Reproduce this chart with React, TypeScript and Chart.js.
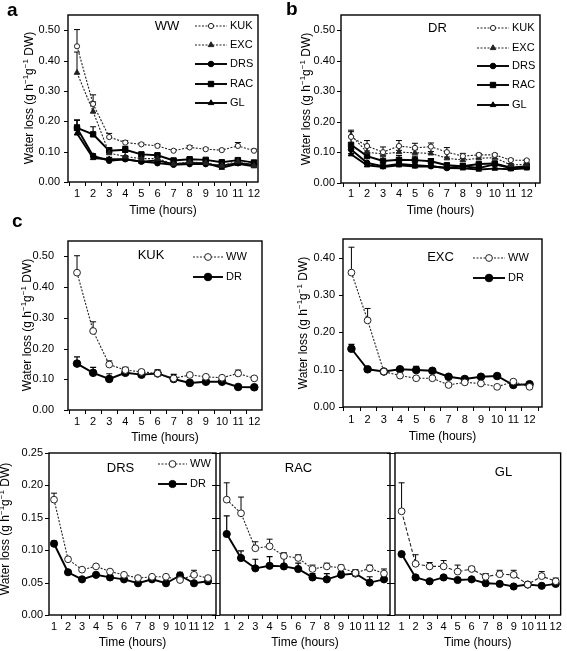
import React, { useEffect, useRef } from 'react';
import { Chart, registerables } from 'chart.js';

Chart.register(...registerables);

const FONT = '"Liberation Sans", Arial, Helvetica, sans-serif';
const PAGE_W = 567;
const PAGE_H = 651;

// ---------- data ----------
const HOURS = [1, 2, 3, 4, 5, 6, 7, 8, 9, 10, 11, 12];
const Y_TICKS_050 = [0, 0.1, 0.2, 0.3, 0.4, 0.5];
const Y_TICKS_040 = [0, 0.1, 0.2, 0.3, 0.4];
const Y_TICKS_025 = [0, 0.05, 0.1, 0.15, 0.2, 0.25];

const KUK_WW = [0.447, 0.257, 0.148, 0.130, 0.124, 0.119, 0.103, 0.114, 0.108, 0.105, 0.119, 0.103];
const KUK_WW_ERR = [0.055, 0.030, 0.012, 0.006, 0.004, 0.005, 0.004, 0.006, 0.004, 0.003, 0.011, 0.005];
const KUK_DR = [0.151, 0.121, 0.101, 0.121, 0.115, 0.119, 0.101, 0.088, 0.092, 0.092, 0.075, 0.074];
const KUK_DR_ERR = [0.022, 0.018, 0.017, 0.018, 0.015, 0.012, 0.015, 0.009, 0.005, 0.004, 0.004, 0.003];

const EXC_WW = [0.360, 0.232, 0.095, 0.084, 0.077, 0.077, 0.059, 0.066, 0.063, 0.054, 0.068, 0.054];
const EXC_WW_ERR = [0.068, 0.032, 0.004, 0.003, 0.003, 0.003, 0.003, 0.003, 0.003, 0.003, 0.004, 0.003];
const EXC_DR = [0.156, 0.101, 0.095, 0.101, 0.099, 0.097, 0.081, 0.075, 0.081, 0.083, 0.059, 0.061];
const EXC_DR_ERR = [0.012, 0.004, 0.005, 0.006, 0.010, 0.006, 0.004, 0.005, 0.004, 0.004, 0.005, 0.005];

const DRS_WW = [0.178, 0.086, 0.070, 0.075, 0.067, 0.062, 0.057, 0.059, 0.059, 0.054, 0.062, 0.057];
const DRS_WW_ERR = [0.010, 0.002, 0.002, 0.002, 0.002, 0.002, 0.002, 0.002, 0.002, 0.002, 0.007, 0.002];
const DRS_DR = [0.110, 0.066, 0.055, 0.062, 0.058, 0.055, 0.049, 0.055, 0.049, 0.061, 0.049, 0.052];
const DRS_DR_ERR = [0.004, 0.002, 0.002, 0.002, 0.002, 0.002, 0.002, 0.002, 0.002, 0.005, 0.002, 0.002];

const RAC_WW = [0.178, 0.157, 0.103, 0.106, 0.091, 0.088, 0.071, 0.075, 0.073, 0.065, 0.072, 0.064];
const RAC_WW_ERR = [0.026, 0.025, 0.010, 0.011, 0.005, 0.005, 0.006, 0.005, 0.004, 0.005, 0.005, 0.007];
const RAC_DR = [0.125, 0.088, 0.072, 0.076, 0.075, 0.071, 0.058, 0.055, 0.062, 0.064, 0.050, 0.055];
const RAC_DR_ERR = [0.028, 0.011, 0.014, 0.014, 0.013, 0.009, 0.006, 0.009, 0.005, 0.005, 0.009, 0.005];

const GL_WW = [0.160, 0.079, 0.075, 0.075, 0.067, 0.071, 0.059, 0.063, 0.062, 0.047, 0.060, 0.052];
const GL_WW_ERR = [0.044, 0.014, 0.006, 0.009, 0.010, 0.004, 0.005, 0.006, 0.007, 0.002, 0.007, 0.005];
const GL_DR = [0.094, 0.058, 0.052, 0.058, 0.054, 0.055, 0.049, 0.048, 0.044, 0.047, 0.045, 0.048];
const GL_DR_ERR = [0.002, 0.002, 0.002, 0.002, 0.002, 0.002, 0.002, 0.002, 0.002, 0.002, 0.002, 0.002];

// ---------- styles ----------
type Marker = 'circle' | 'triangle' | 'rect';
interface SeriesDef {
  name: string;
  data: number[];
  err: number[];
  marker: Marker;
  open: boolean;
  radius: number;
  dash: number[];
  width: number;
  color: string;
}

const dotted = (name: string, data: number[], err: number[], marker: Marker, open: boolean, radius: number, dash = [2, 1.5]): SeriesDef => ({
  name, data, err, marker, open, radius, dash, width: 1.1, color: '#222',
});
const solid = (name: string, data: number[], err: number[], marker: Marker, radius: number): SeriesDef => ({
  name, data, err, marker, open: false, radius, dash: [], width: 1.9, color: '#000',
});

interface PanelDef {
  key: string;
  plot: [number, number, number, number];
  xMin: number;
  xMax: number;
  yMax: number;
  yTicks: number[];
  yLabelPad: number | null;
  yTickLen: number;
  xLabelPad: number;
  series: SeriesDef[];
  title: [string, number, number];
  legend: { x1: number; x2: number; tx: number; ys: number[] } | null;
  yTitle: [number, number] | null;
  xTitleY: number;
  tag?: [string, number, number];
}

const PANELS: PanelDef[] = [
  {
    key: 'a', plot: [68, 15, 258, 182], xMin: 0.44, xMax: 12.25, yMax: 0.55, yTicks: Y_TICKS_050,
    yLabelPad: 8, yTickLen: 4, xLabelPad: 5,
    series: [
      dotted('KUK', KUK_WW, KUK_WW_ERR, 'circle', true, 2.6),
      dotted('EXC', EXC_WW, EXC_WW_ERR, 'triangle', false, 3.2),
      solid('DRS', DRS_WW, DRS_WW_ERR, 'circle', 2.8),
      solid('RAC', RAC_WW, RAC_WW_ERR, 'rect', 3.8),
      solid('GL', GL_WW, GL_WW_ERR, 'triangle', 3.2),
    ],
    title: ['WW', 167, 26],
    legend: { x1: 195, x2: 227, tx: 230, ys: [26, 45, 64, 84, 103] },
    yTitle: [30, 98], xTitleY: 211, tag: ['a', 7, 16],
  },
  {
    key: 'b', plot: [341, 15, 540, 183], xMin: 0.37, xMax: 12.83, yMax: 0.55, yTicks: Y_TICKS_050,
    yLabelPad: 6, yTickLen: 4, xLabelPad: 4,
    series: [
      dotted('KUK', KUK_DR, KUK_DR_ERR, 'circle', true, 2.6),
      dotted('EXC', EXC_DR, EXC_DR_ERR, 'triangle', false, 3.2),
      solid('DRS', DRS_DR, DRS_DR_ERR, 'circle', 2.8),
      solid('RAC', RAC_DR, RAC_DR_ERR, 'rect', 3.8),
      solid('GL', GL_DR, GL_DR_ERR, 'triangle', 3.2),
    ],
    title: ['DR', 437.5, 28],
    legend: { x1: 477, x2: 509, tx: 512, ys: [28, 48, 66, 85, 105] },
    yTitle: [307, 99], xTitleY: 211, tag: ['b', 286, 15],
  },
  {
    key: 'kuk', plot: [68, 241, 262, 410], xMin: 0.44, xMax: 12.48, yMax: 0.55, yTicks: Y_TICKS_050,
    yLabelPad: 14, yTickLen: 4, xLabelPad: 5,
    series: [
      dotted('WW', KUK_WW, KUK_WW_ERR, 'circle', true, 3.4),
      solid('DR', KUK_DR, KUK_DR_ERR, 'circle', 3.8),
    ],
    title: ['KUK', 151, 255],
    legend: { x1: 193, x2: 223, tx: 226, ys: [257, 277] },
    yTitle: [28, 325], xTitleY: 438, tag: ['c', 12, 227],
  },
  {
    key: 'exc', plot: [343, 239, 542, 407], xMin: 0.48, xMax: 12.77, yMax: 0.45, yTicks: Y_TICKS_040,
    yLabelPad: 8, yTickLen: 4, xLabelPad: 6,
    series: [
      dotted('WW', EXC_WW, EXC_WW_ERR, 'circle', true, 3.4),
      solid('DR', EXC_DR, EXC_DR_ERR, 'circle', 3.8),
    ],
    title: ['EXC', 440.5, 257],
    legend: { x1: 473, x2: 505, tx: 508, ys: [258, 278] },
    yTitle: [304, 323], xTitleY: 437,
  },
  {
    key: 'drs', plot: [49, 453, 216, 615], xMin: 0.64, xMax: 12.57, yMax: 0.25, yTicks: Y_TICKS_025,
    yLabelPad: 6, yTickLen: 4, xLabelPad: 5,
    series: [
      dotted('WW', DRS_WW, DRS_WW_ERR, 'circle', true, 3.4),
      solid('DR', DRS_DR, DRS_DR_ERR, 'circle', 3.6),
    ],
    title: ['DRS', 120.5, 468],
    legend: { x1: 158, x2: 187, tx: 190, ys: [464, 484] },
    yTitle: [6, 529], xTitleY: 643,
  },
  {
    key: 'rac', plot: [220, 453, 390, 615], xMin: 0.53, xMax: 12.42, yMax: 0.25, yTicks: Y_TICKS_025,
    yLabelPad: null, yTickLen: 8, xLabelPad: 5,
    series: [
      dotted('WW', RAC_WW, RAC_WW_ERR, 'circle', true, 3.4),
      solid('DR', RAC_DR, RAC_DR_ERR, 'circle', 3.6),
    ],
    title: ['RAC', 298.5, 468],
    legend: null,
    yTitle: null, xTitleY: 643,
  },
  {
    key: 'gl', plot: [395, 453, 565, 615], xMin: 0.53, xMax: 12.35, yMax: 0.25, yTicks: Y_TICKS_025,
    yLabelPad: null, yTickLen: 8, xLabelPad: 5,
    series: [
      dotted('WW', GL_WW, GL_WW_ERR, 'circle', true, 3.4, [3.5, 2]),
      solid('DR', GL_DR, GL_DR_ERR, 'circle', 3.6),
    ],
    title: ['GL', 503.5, 472],
    legend: null,
    yTitle: null, xTitleY: 643,
  },
];

const X_TITLE = 'Time (hours)';
const Y_TITLE_SEGMENTS: [string, boolean][] = [
  ['Water loss (g h', false],
  ['\u22121', true],
  ['g', false],
  ['\u22121', true],
  [' DW)', false],
];

// ---------- drawing helpers ----------
function drawMarker(ctx: CanvasRenderingContext2D, style: Marker, x: number, y: number, r: number, open: boolean, color: string) {
  ctx.save();
  ctx.setLineDash([]);
  ctx.beginPath();
  if (style === 'circle') {
    ctx.arc(x, y, r, 0, Math.PI * 2);
  } else if (style === 'rect') {
    const s = r * Math.SQRT1_2;
    ctx.rect(x - s, y - s, 2 * s, 2 * s);
  } else {
    ctx.moveTo(x, y - r);
    ctx.lineTo(x + 0.866 * r, y + 0.5 * r);
    ctx.lineTo(x - 0.866 * r, y + 0.5 * r);
    ctx.closePath();
  }
  ctx.fillStyle = open ? '#fff' : color;
  ctx.fill();
  ctx.lineWidth = 1;
  ctx.strokeStyle = color;
  ctx.stroke();
  ctx.restore();
}

function drawYTitle(ctx: CanvasRenderingContext2D, cx: number, cy: number) {
  const big = `12px ${FONT}`;
  const small = `8px ${FONT}`;
  ctx.save();
  ctx.translate(cx, cy);
  ctx.rotate(-Math.PI / 2);
  ctx.fillStyle = '#000';
  ctx.textBaseline = 'middle';
  ctx.textAlign = 'left';
  const widths = Y_TITLE_SEGMENTS.map(([t, sup]) => {
    ctx.font = sup ? small : big;
    return ctx.measureText(t).width;
  });
  const total = widths.reduce((a, b) => a + b, 0);
  let x = -total / 2;
  Y_TITLE_SEGMENTS.forEach(([t, sup], i) => {
    ctx.font = sup ? small : big;
    ctx.fillText(t, x, sup ? -4 : 0);
    x += widths[i];
  });
  ctx.restore();
}

const Y_AXIS_W = 40;
const X_AXIS_H = 20;

function buildConfig(p: PanelDef): any {
  const [L, T, R, B] = p.plot;
  const plugin = {
    id: 'panelDecor_' + p.key,
    beforeDatasetsDraw(chart: any) {
      const ctx: CanvasRenderingContext2D = chart.ctx;
      const xs = chart.scales.x;
      const ys = chart.scales.y;
      ctx.save();
      ctx.setLineDash([]);
      ctx.strokeStyle = '#000';
      p.series.forEach((s) => {
        ctx.lineWidth = s.dash.length ? 1 : 1.2;
        s.data.forEach((v, i) => {
          const e = s.err[i];
          if (!e) return;
          const x = xs.getPixelForValue(HOURS[i]);
          const y0 = ys.getPixelForValue(v);
          const y1 = ys.getPixelForValue(v + e);
          ctx.beginPath();
          ctx.moveTo(x, y0);
          ctx.lineTo(x, y1);
          ctx.moveTo(x - 3, y1);
          ctx.lineTo(x + 3, y1);
          ctx.stroke();
        });
      });
      ctx.restore();
    },
    afterDraw(chart: any) {
      const ctx: CanvasRenderingContext2D = chart.ctx;
      const xs = chart.scales.x;
      const ys = chart.scales.y;
      const area = chart.chartArea;
      ctx.save();
      ctx.setLineDash([]);
      ctx.strokeStyle = '#000';
      // frame
      ctx.lineWidth = 1.4;
      ctx.strokeRect(area.left, area.top, area.right - area.left, area.bottom - area.top);
      // y tick marks
      ctx.lineWidth = 1;
      p.yTicks.forEach((v) => {
        const y = Math.round(ys.getPixelForValue(v)) + 0.5;
        ctx.beginPath();
        ctx.moveTo(area.left - p.yTickLen, y);
        ctx.lineTo(area.left, y);
        ctx.stroke();
      });
      // x tick marks between categories
      for (let h = 0.5; h <= 12.5; h += 1) {
        if (h <= p.xMin || h >= p.xMax) continue;
        const x = Math.round(xs.getPixelForValue(h)) + 0.5;
        ctx.beginPath();
        ctx.moveTo(x, area.bottom);
        ctx.lineTo(x, area.bottom + 4);
        ctx.stroke();
      }
      // panel title
      ctx.fillStyle = '#000';
      ctx.font = `13px ${FONT}`;
      ctx.textAlign = 'center';
      ctx.textBaseline = 'middle';
      ctx.fillText(p.title[0], p.title[1], p.title[2]);
      // x title
      ctx.font = `12px ${FONT}`;
      ctx.fillText(X_TITLE, (area.left + area.right) / 2, p.xTitleY);
      // legend
      if (p.legend) {
        const lg = p.legend;
        p.series.forEach((s, i) => {
          const y = lg.ys[i];
          ctx.save();
          ctx.strokeStyle = s.color;
          ctx.lineWidth = s.width;
          ctx.setLineDash(s.dash);
          ctx.beginPath();
          ctx.moveTo(lg.x1, y);
          ctx.lineTo(lg.x2, y);
          ctx.stroke();
          ctx.restore();
          drawMarker(ctx, s.marker, (lg.x1 + lg.x2) / 2, y, s.radius, s.open, s.color);
          ctx.fillStyle = '#000';
          ctx.font = `11px ${FONT}`;
          ctx.textAlign = 'left';
          ctx.textBaseline = 'middle';
          ctx.fillText(s.name, lg.tx, y);
        });
      }
      if (p.yTitle) drawYTitle(ctx, p.yTitle[0], p.yTitle[1]);
      if (p.tag) {
        ctx.fillStyle = '#000';
        ctx.font = `bold 19px ${FONT}`;
        ctx.textAlign = 'left';
        ctx.textBaseline = 'alphabetic';
        ctx.fillText(p.tag[0], p.tag[1], p.tag[2]);
      }
      ctx.restore();
    },
  };

  return {
    type: 'line',
    data: {
      datasets: p.series.map((s) => ({
        label: s.name,
        data: s.data.map((v, i) => ({ x: HOURS[i], y: v })),
        borderColor: s.color,
        borderWidth: s.width,
        borderDash: s.dash,
        pointStyle: s.marker,
        pointRadius: s.radius,
        pointBackgroundColor: s.open ? '#fff' : s.color,
        pointBorderColor: s.color,
        pointBorderWidth: 1,
        fill: false,
        tension: 0,
      })),
    },
    options: {
      responsive: false,
      animation: false,
      devicePixelRatio: 1,
      events: [],
      layout: {
        padding: { left: L - Y_AXIS_W, top: T, right: PAGE_W - R, bottom: PAGE_H - B - X_AXIS_H },
      },
      plugins: { legend: { display: false }, tooltip: { enabled: false }, title: { display: false } },
      scales: {
        x: {
          type: 'linear',
          min: p.xMin,
          max: p.xMax,
          grid: { display: false, drawTicks: false },
          border: { display: false },
          afterBuildTicks: (s: any) => { s.ticks = HOURS.map((v) => ({ value: v })); },
          afterFit: (s: any) => { s.height = X_AXIS_H; },
          ticks: {
            padding: p.xLabelPad,
            autoSkip: false,
            maxRotation: 0,
            minRotation: 0,
            color: '#000',
            font: { size: 11, family: FONT },
            callback: (v: any) => String(v),
          },
        },
        y: {
          type: 'linear',
          min: 0,
          max: p.yMax,
          grid: { display: false, drawTicks: false },
          border: { display: false },
          afterBuildTicks: (s: any) => { s.ticks = p.yTicks.map((v) => ({ value: v })); },
          afterFit: (s: any) => { s.width = Y_AXIS_W; },
          ticks: {
            display: p.yLabelPad !== null,
            padding: p.yLabelPad ?? 0,
            color: '#000',
            font: { size: 11, family: FONT },
            callback: (v: any) => Number(v).toFixed(2),
          },
        },
      },
    },
    plugins: [plugin],
  };
}

function Panel({ def }: { def: PanelDef }) {
  const ref = useRef<HTMLCanvasElement>(null);
  useEffect(() => {
    if (!ref.current) return;
    const chart = new Chart(ref.current, buildConfig(def));
    return () => chart.destroy();
  }, [def]);
  return (
    <canvas
      ref={ref}
      width={PAGE_W}
      height={PAGE_H}
      style={{ position: 'absolute', left: 0, top: 0, width: PAGE_W, height: PAGE_H }}
    />
  );
}

export default function App() {
  return (
    <div style={{ position: 'absolute', left: 0, top: 0, width: PAGE_W, height: PAGE_H, background: '#fff', overflow: 'hidden' }}>
      {PANELS.map((p) => (
        <Panel key={p.key} def={p} />
      ))}
    </div>
  );
}
